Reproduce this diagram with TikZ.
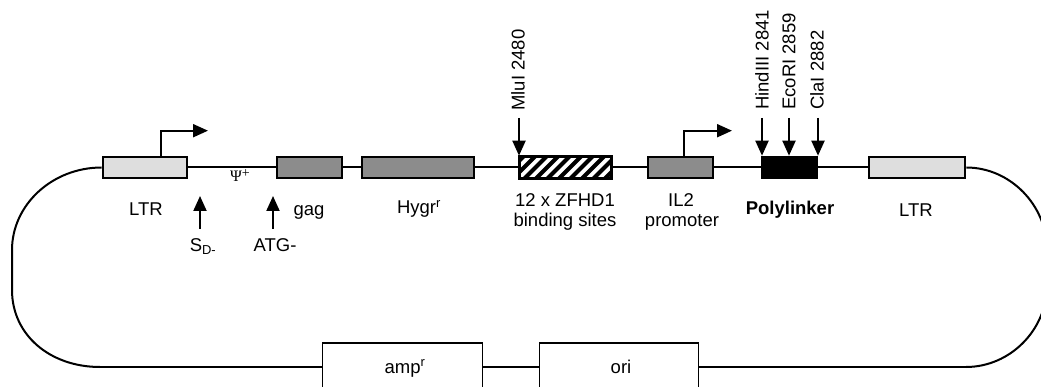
\documentclass[tikz,border=0pt]{standalone}
\usepackage{fontspec}
\setmainfont{Liberation Sans}
\newfontfamily\psifont{Liberation Serif}
\usetikzlibrary{arrows.meta}
\definecolor{ltrgray}{HTML}{DEDEDE}
\definecolor{midgray}{HTML}{8C8C8C}
\newcommand{\lblfont}{\fontsize{18.5}{20}\selectfont}
\tikzset{
  box/.style={draw, line width=2.1pt, minimum height=21.5pt, inner sep=0pt},
  thinbox/.style={draw, line width=1.3pt, minimum height=48pt, inner sep=0pt, fill=white},
  bb/.style={line width=2pt},
  thinbb/.style={line width=1.5pt},
  lbl/.style={font=\lblfont, anchor=base, inner sep=0pt},
  vlbl/.style={font=\lblfont, anchor=west, rotate=90, inner sep=0pt},
  pin/.style={line width=2pt, -{Triangle[length=15pt,width=13pt]}},
  tss/.style={line width=2pt, -{Triangle[length=15pt,width=13pt]}}
}
\begin{document}
\begin{tikzpicture}[x=1pt,y=-1pt]
\useasboundingbox (0,0) rectangle (1041,387);
\clip (0,0) rectangle (1041,387);
% boxes
\node[box, fill=ltrgray, minimum width=84.5pt] (ltrL) at (145,167.5) {};
\node[box, fill=midgray, minimum width=65.5pt] (gag) at (309.5,167.5) {};
\node[box, fill=midgray, minimum width=112.5pt] (hygr) at (418,167.5) {};
\node[box, fill=white, minimum width=91.5pt] (zf) at (565.5,167.5) {};
\node[box, fill=midgray, minimum width=65.5pt] (il2) at (680.5,167.5) {};
\node[box, fill=black, minimum width=55.5pt] (poly) at (789.5,167.5) {};
\node[box, fill=ltrgray, minimum width=96.5pt] (ltrR) at (917,167.5) {};
\node[thinbox, minimum width=160pt] (amp) at (402.5,367) {};
\node[thinbox, minimum width=159pt] (ori) at (619,367) {};
% hatch
\begin{scope}
  \clip (zf.south west) rectangle (zf.north east);
  \foreach \x in {500,511.5,...,625} \draw[line width=4pt] (\x,180) -- (\x+24,156);
\end{scope}
\draw[line width=2.1pt] (zf.south west) rectangle (zf.north east);
% backbone
\draw[bb] (ltrL.east) -- (gag.west);
\draw[bb] (gag.east) -- (hygr.west);
\draw[bb] (hygr.east) -- (zf.west);
\draw[bb] (zf.east) -- (il2.west);
\draw[bb] (il2.east) -- (poly.west);
\draw[bb] (poly.east) -- (ltrR.west);
\draw[bb] (ltrL.west) .. controls (52,167.5) and (12,205) .. (12,250) -- (12,290)
  .. controls (12,335) and (50,367) .. (100,367);
\draw[thinbb] (100,367) -- (amp.west);
\draw[thinbb] (amp.east) -- (ori.west);
\draw[thinbb] (ori.east) -- (966,367);
\draw[bb] (ltrR.east) .. controls (1010,167.5) and (1047,205) .. (1047,250) -- (1047,285)
  .. controls (1047,330) and (1010,367) .. (966,367);
% transcription starts
\draw[tss] ([xshift=16pt]ltrL.north) |- ++(47,-25);
\draw[tss] ([xshift=3.5pt]il2.north) |- ++(48,-25);
% restriction sites
\coordinate (m1) at (519,118);
\coordinate (h1) at (762,118);
\coordinate (e1) at (789,118);
\coordinate (c1) at (818,118);
\draw[pin] (m1) -- (m1 |- zf.north);
\draw[pin] (h1) -- (h1 |- poly.north);
\draw[pin] (e1) -- (e1 |- poly.north);
\draw[pin] (c1) -- (c1 |- poly.north);
\node[vlbl] (mlu) at (518,111) {MluI 2480};
\node[vlbl] (hind) at (762,110) {HindIII 2841};
\node[vlbl] (eco) at (789,110) {EcoRI 2859};
\node[vlbl] (cla) at (817,110) {ClaI 2882};
% SD and ATG
\coordinate (sd0) at (200,229);
\coordinate (atg0) at (273,229);
\draw[pin] (sd0) -- (200,196);
\draw[pin] (atg0) -- (273,196);
% labels
\node[lbl] (tltrL) at (146,216) {LTR};
\node[lbl] (tsd) at (203,252) {S\textsubscript{D-}};
\node[lbl] (tatg) at (275,252) {ATG-};
\node[lbl] (tgag) at (309,216) {gag};
\node[lbl, font=\psifont\fontsize{16}{17}\selectfont] (tpsi) at (240,182) {Ψ\raisebox{4pt}{\fontsize{14}{15}\selectfont+}};
\node[lbl] (thygr) at (419,214) {Hygr\textsuperscript{r}};
\node[lbl] (tzf1) at (565,207) {12 x ZFHD1};
\node[lbl] (tzf2) at (565,227) {binding sites};
\node[lbl] (til1) at (681,207) {IL2};
\node[lbl] (til2) at (682,227) {promoter};
\node[lbl, font=\lblfont\bfseries] (tpoly) at (790,215) {Polylinker};
\node[lbl] (tltrR) at (916,217) {LTR};
\node[lbl] (tamp) at (405,373) {amp\textsuperscript{r}};
\node[lbl] (tori) at (621,373) {ori};
\end{tikzpicture}
\end{document}
